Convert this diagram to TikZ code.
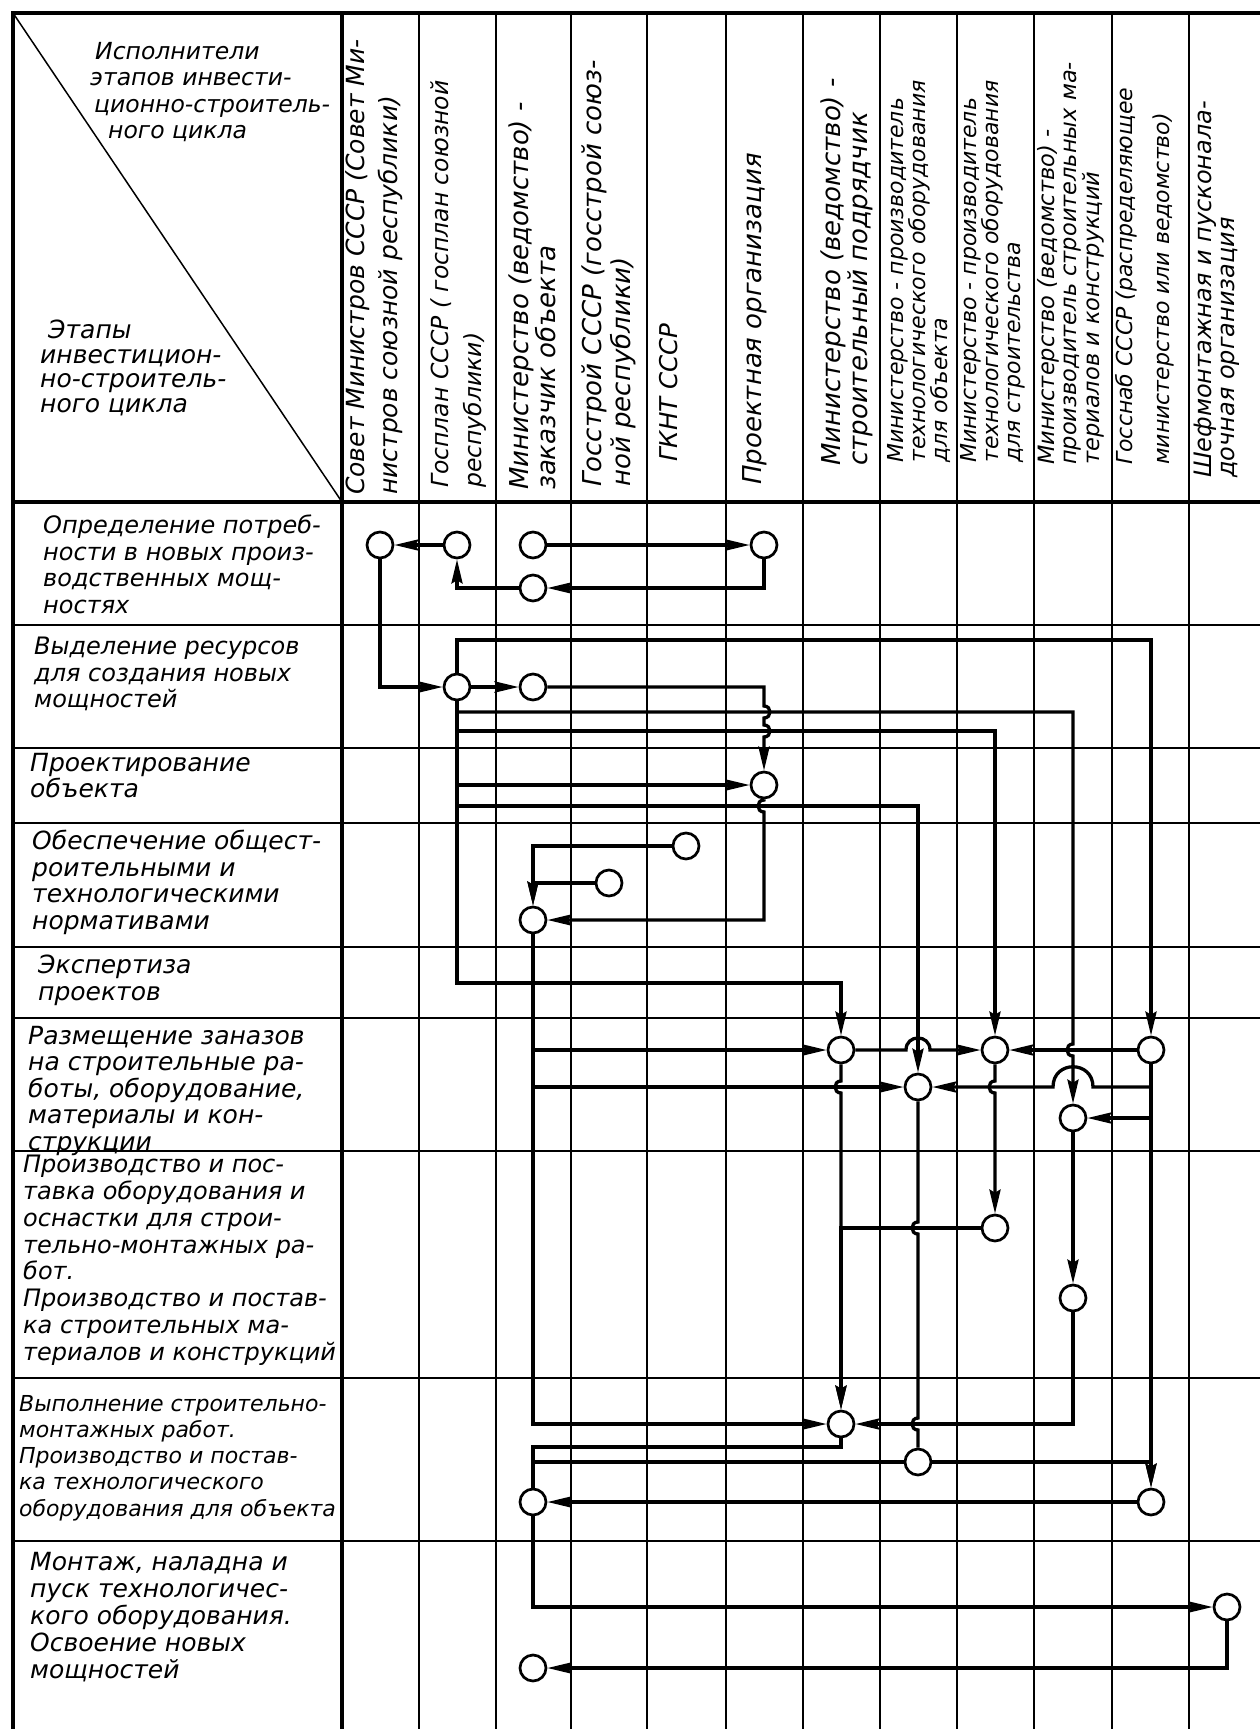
\documentclass[tikz,border=0pt]{standalone}
\usepackage{fontspec}
\setmainfont{DejaVu Sans}[ItalicFont={DejaVu Sans Oblique}]
\usetikzlibrary{arrows.meta}
\newcommand\stagefont[2][23]{\fontsize{#1}{#2}\selectfont\itshape}
\tikzset{
  rim/.style={line width=3.5pt},
  gridline/.style={line width=1.5pt},
  con/.style={line width=3.3pt},
  arr/.style={con, -{Stealth[length=24pt,width=11pt,inset=3pt]}},
  circ/.style={circle, draw, line width=2.7pt, minimum size=26pt, inner sep=0pt, fill=white},
  stage/.style={anchor=north west, align=left, inner sep=0pt},
  actor/.style={rotate=90, anchor=north west, align=left, inner sep=0pt},
  vhop/.style 2 args={insert path={-- (#1,#2-6) .. controls (#1-8,#2-6) and (#1-8,#2+6) .. (#1,#2+6)}},
  vhopr/.style 2 args={insert path={-- (#1,#2-6) .. controls (#1+8,#2-6) and (#1+8,#2+6) .. (#1,#2+6)}},
  hhop/.style 2 args={insert path={-- (#1-12,#2) .. controls (#1-12,#2-16) and (#1+12,#2-16) .. (#1+12,#2)}},
}
\begin{document}
\begin{tikzpicture}[x=1pt,y=-1pt]
\useasboundingbox (0,0) rectangle (1260,1729);

% grid
\foreach \x in {419,496,571,647,726,803,880,957,1034,1112,1189}
  \draw[gridline] (\x,13) -- (\x,1729);
\foreach \y in {625,748,823,947,1018,1151,1378,1541}
  \draw[gridline] (13,\y) -- (1260,\y);
\draw[rim] (1260,13) -- (13,13) -- (13,1729);
\draw[rim] (342,13) -- (342,1729);
\draw[rim] (13,502) -- (1260,502);
\draw[gridline] (13,13) -- (342,502);

% corner labels
\node[stage, font={\stagefont[23.5]{26.5}}] (who) at (90,42)
  {\hspace*{5pt}Исполнители\\этапов инвести-\\\hspace*{4pt}ционно-строитель-\\\hspace*{18pt}ного цикла};
\node[stage, font={\stagefont[25]{24.5}}] (what) at (40,320)
  {\hspace*{8pt}Этапы\\инвестицион-\\но-строитель-\\ного цикла};

% executors
\node[actor, font={\stagefont[25]{33}}] (hsov) at (345,495) {Совет Министров СССР (Совет Ми-\\нистров союзной республики)};
\node[actor, font={\stagefont[23.5]{33}}] (hgpl) at (430,488) {Госплан СССР ( госплан союзной\\республики)};
\node[actor, font={\stagefont[26]{27}}] (hzak) at (509,490) {Министерство (ведомство) -\\заказчик объекта};
\node[actor, font={\stagefont[26]{29}}] (hgstr) at (582,487) {Госстрой СССР (госстрой союз-\\ной республики)};
\node[actor, font={\stagefont[24.5]{27}}] (hgknt) at (659,462) {ГКНТ СССР};
\node[actor, font={\stagefont[26]{27}}] (hprj) at (742,485) {Проектная организация};
\node[actor, font={\stagefont[26]{25}}] (hpodr) at (821,466) {Министерство (ведомство) -\\строительный подрядчик};
\node[actor, font={\stagefont[22]{22}}] (hobj) at (887,463) {Министерство - производитель\\технологического оборудования\\для объекта};
\node[actor, font={\stagefont[22]{22}}] (hosn) at (960,463) {Министерство - производитель\\технологического оборудования\\для строительства};
\node[actor, font={\stagefont[22.5]{22.5}}] (hmat) at (1037,465) {Министерство (ведомство) -\\производитель строительных ма-\\териалов и конструкций};
\node[actor, font={\stagefont[22]{37}}] (hsnab) at (1115,465) {Госснаб СССР (распределяющее\\министерство или ведомство)};
\node[actor, font={\stagefont[24]{23}}] (hshef) at (1194,478) {Шефмонтажная и пусконала-\\дочная организация};

% stages
\node[stage, font={\stagefont[24]{26.5}}] (st1) at (43,515) {Определение потреб-\\ности в новых произ-\\водственных мощ-\\ностях};
\node[stage, font={\stagefont[24]{26.5}}] (st2) at (34,637) {Выделение ресурсов\\для создания новых\\мощностей};
\node[stage, font={\stagefont[25]{26.5}}] (st3) at (30,753) {Проектирование\\объекта};
\node[stage, font={\stagefont[25]{26.5}}] (st4) at (32,830) {Обеспечение общест-\\роительными и\\технологическими\\нормативами};
\node[stage, font={\stagefont[25]{26.5}}] (st5) at (38,955) {Экспертиза\\проектов};
\node[stage, font={\stagefont[25]{26.5}}] (st6) at (28,1026) {Размещение заназов\\на строительные ра-\\боты, оборудование,\\материалы и кон-\\струкции};
\node[stage, font={\stagefont[24]{26.8}}] (st7) at (23,1155) {Производство и пос-\\тавка оборудования и\\оснастки для строи-\\тельно-монтажных ра-\\бот.\\Производство и постав-\\ка строительных ма-\\териалов и конструкций};
\node[stage, font={\stagefont[22]{26.2}}] (st8) at (19,1395) {Выполнение строительно-\\монтажных работ.\\Производство и постав-\\ка технологического\\оборудования для объекта};
\node[stage, font={\stagefont[25]{27}}] (st9) at (30,1552) {Монтаж, наладна и\\пуск технологичес-\\кого оборудования.\\Освоение новых\\мощностей};

% circles
\node[circ] (sov1) at (380,545) {};
\node[circ] (gpl1) at (457,545) {};
\node[circ] (zak1) at (533,545) {};
\node[circ] (prj1) at (764,545) {};
\node[circ] (zak1b) at (533,588) {};
\node[circ] (gpl2) at (457,687) {};
\node[circ] (zak2) at (533,687) {};
\node[circ] (prj3) at (764,785) {};
\node[circ] (gknt4) at (686,846) {};
\node[circ] (gstr4) at (609,883) {};
\node[circ] (zak4) at (533,920) {};
\node[circ] (podr6) at (841,1050) {};
\node[circ] (osn6) at (995,1050) {};
\node[circ] (snab6) at (1151,1050) {};
\node[circ] (obj6) at (918,1087) {};
\node[circ] (mat6) at (1073,1118) {};
\node[circ] (osn7) at (995,1228) {};
\node[circ] (mat7) at (1073,1298) {};
\node[circ] (podr8) at (841,1424) {};
\node[circ] (obj8) at (918,1462) {};
\node[circ] (snab8) at (1151,1502) {};
\node[circ] (zak8) at (533,1502) {};
\node[circ] (shef9) at (1227,1607) {};
\node[circ] (zak9) at (533,1668) {};

% need
\draw[arr] (gpl1) -- (sov1);
\draw[arr] (zak1) -- (prj1);
\draw[arr] (prj1) |- (zak1b);
\draw[arr] (zak1b) -| (gpl1);
\draw[arr] (sov1) |- (gpl2);

% resources
\draw[arr] (gpl2) -- (zak2);
\draw[arr] (zak2) -- (764,687) [vhopr={764}{712}] [vhopr={764}{731}] -- (prj3);
\draw[arr] (gpl2) |- (1151,640) -- (snab6);
\draw[arr] (gpl2) |- (1073,712) [vhop={1073}{1050}] -- (mat6);
\draw[arr] (gpl2) |- (995,731) -- (osn6);
\draw[arr] (gpl2) |- (prj3);
\draw[arr] (gpl2) |- (918,806) -- (obj6);
\draw[arr] (gpl2) |- (841,983) -- (podr6);

% design, norms
\draw[arr] (prj3) [vhop={764}{806}] -- (764,920) -- (zak4);
\draw[arr] (gknt4) -| (zak4);
\draw[arr] (gstr4) -| (zak4);
\draw[arr] (zak4) |- (podr6);
\draw[arr] (zak4) |- (obj6);
\draw[arr] (zak4) |- (podr8);

% orders
\draw[arr] (podr6) [hhop={918}{1050}] -- (osn6);
\draw[arr] (snab6) -- (osn6);
\draw[arr] (snab6) |- (1093,1087) .. controls (1093,1060) and (1053,1060) .. (1053,1087) -- (obj6);
\draw[arr] (snab6) |- (mat6);
\draw[arr] (snab6) -- (snab8);
\draw[arr] (osn6) [vhop={995}{1087}] -- (osn7);
\draw[arr] (podr6) [vhop={841}{1087}] -- (podr8);
\draw[arr] (osn7) -| (podr8);
\draw[con] (obj6) [vhop={918}{1228}] [vhop={918}{1424}] -- (obj8);
\draw[arr] (mat6) -- (mat7);
\draw[arr] (mat7) |- (podr8);

% construction, start-up
\draw[con] (podr8) |- (533,1447) -- (zak8);
\draw[con] (obj8) -| (zak8);
\draw[arr] (obj8) -| (snab8);
\draw[arr] (snab8) -- (zak8);
\draw[arr] (zak8) |- (shef9);
\draw[arr] (shef9) |- (zak9);
\end{tikzpicture}
\end{document}
